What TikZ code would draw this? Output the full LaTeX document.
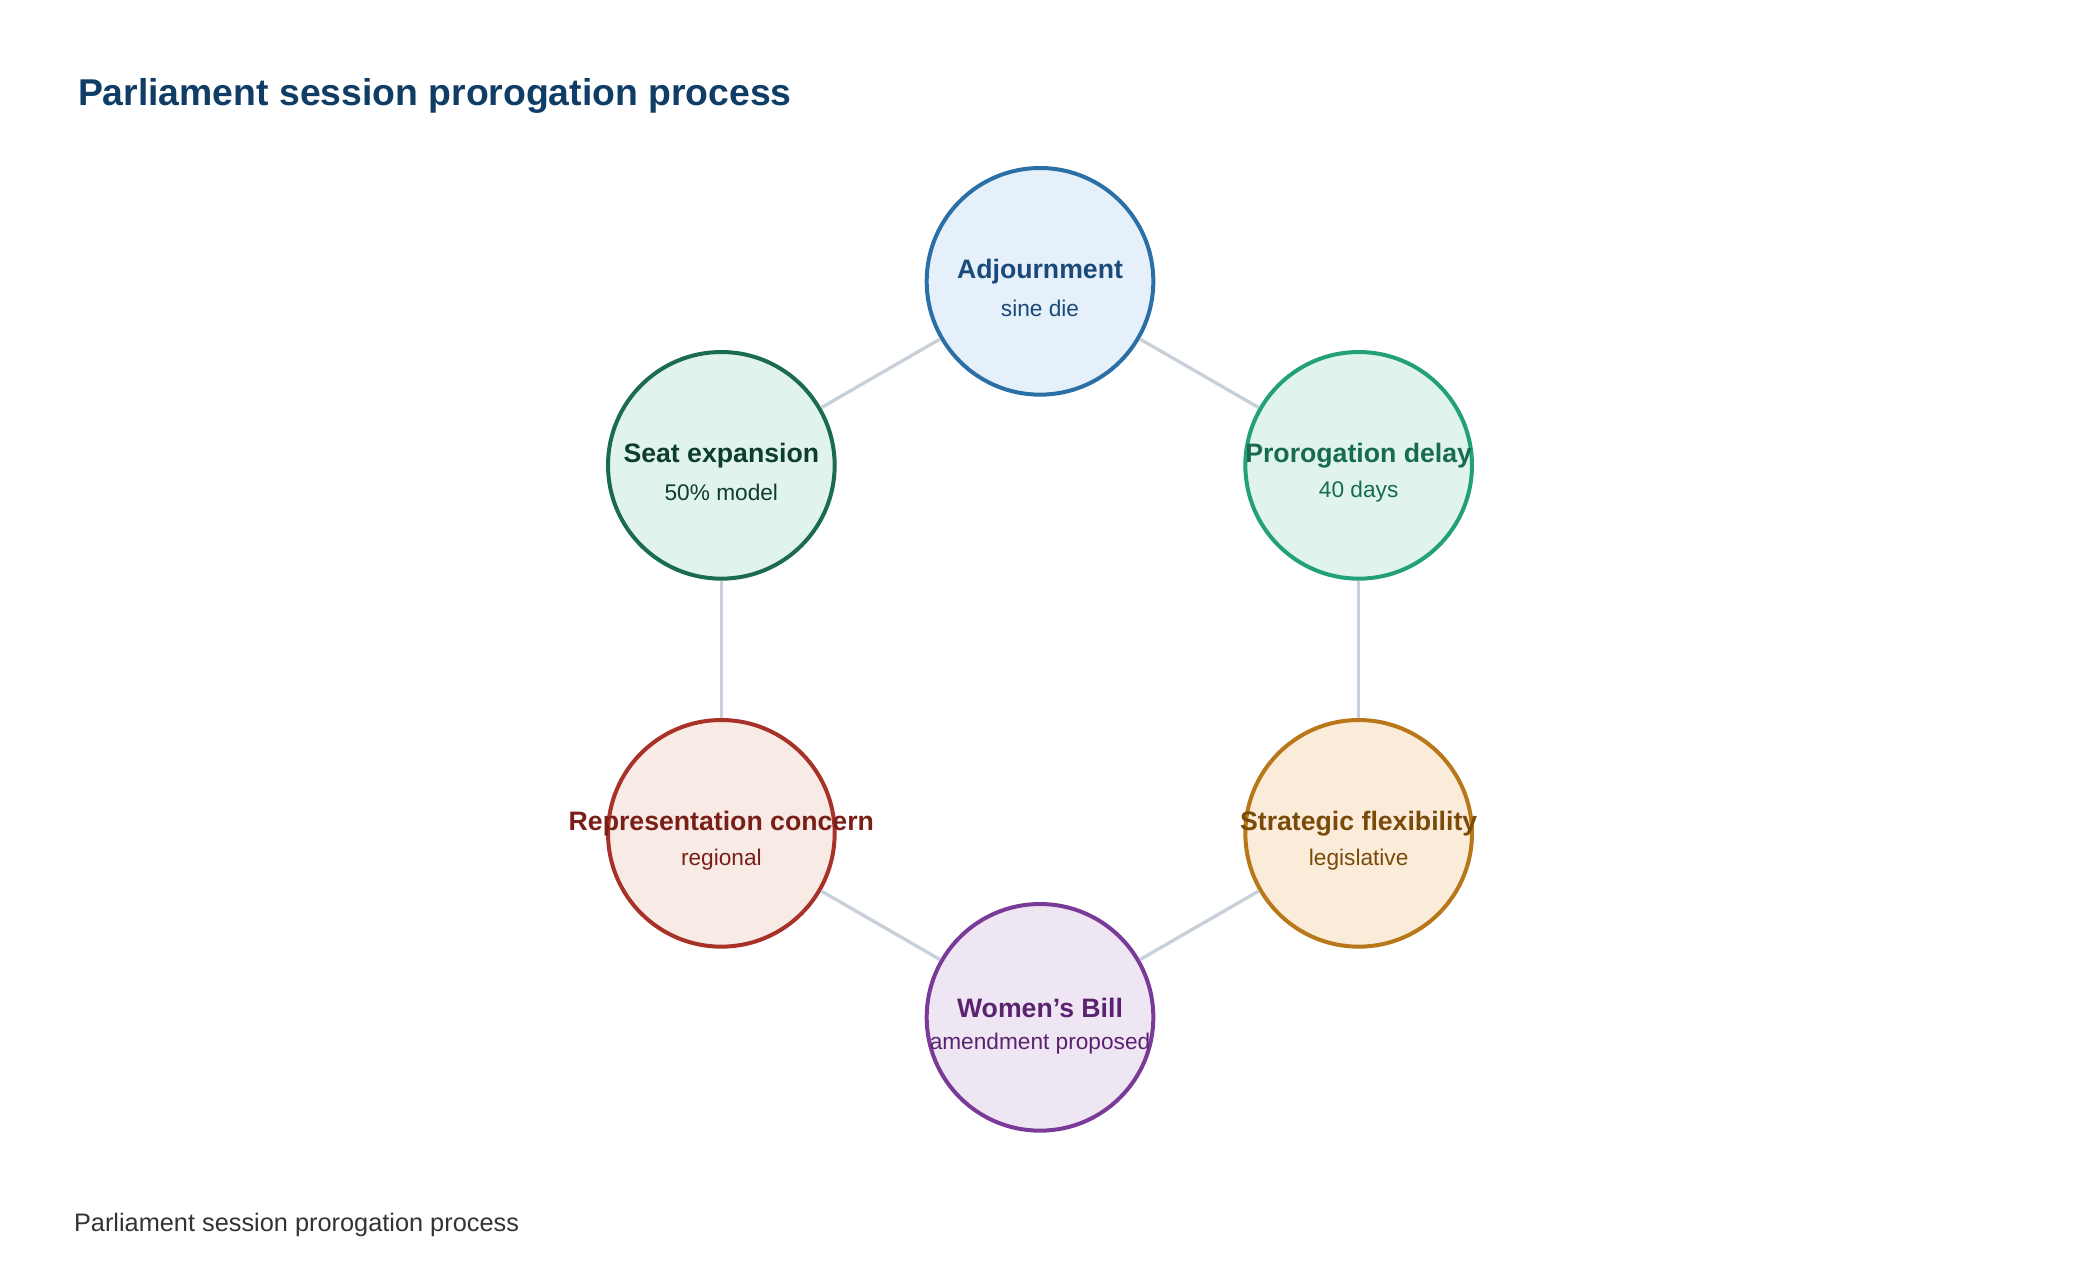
\documentclass[tikz,border=0pt]{standalone}
\usepackage{fontspec}
\setmainfont{Liberation Sans}
\begin{document}
\begin{tikzpicture}[x=1pt,y=-1pt,
  nd/.style={circle,minimum size=170pt,inner sep=0pt,line width=3pt},
  ed/.style={draw=edgec,line width=2.5pt},
  lb/.style={font=\fontsize{20}{24}\selectfont\bfseries},
  sb/.style={font=\fontsize{17}{20}\selectfont}]
\definecolor{edgec}{HTML}{C8D0DA}
\definecolor{c1s}{HTML}{2A6FA6}\definecolor{c1f}{HTML}{E6F0FA}\definecolor{c1t}{HTML}{1A4A7A}
\definecolor{c2s}{HTML}{1A6B50}\definecolor{c2f}{HTML}{E0F3EC}\definecolor{c2t}{HTML}{0D3D2C}
\definecolor{c3s}{HTML}{22A07A}\definecolor{c3f}{HTML}{E0F3EC}\definecolor{c3t}{HTML}{166B50}
\definecolor{c4s}{HTML}{A83228}\definecolor{c4f}{HTML}{F8EBE6}\definecolor{c4t}{HTML}{7A1E18}
\definecolor{c5s}{HTML}{B87718}\definecolor{c5f}{HTML}{FAECD8}\definecolor{c5t}{HTML}{7A4A0A}
\definecolor{c6s}{HTML}{7A3A98}\definecolor{c6f}{HTML}{EFE6F4}\definecolor{c6t}{HTML}{5A2270}
\definecolor{titlec}{HTML}{0F3D66}
\useasboundingbox (0,0) rectangle (1560,963);
\node[nd,draw=c1s,fill=c1f] (a) at (780,211) {};
\node[nd,draw=c2s,fill=c2f] (s) at (541,349) {};
\node[nd,draw=c3s,fill=c3f] (p) at (1019,349) {};
\node[nd,draw=c4s,fill=c4f] (r) at (541,625) {};
\node[nd,draw=c5s,fill=c5f] (t) at (1019,625) {};
\node[nd,draw=c6s,fill=c6f] (w) at (780,763) {};
\draw[ed] (s) -- (a); \draw[ed] (a) -- (p); \draw[ed] (p) -- (t);
\draw[ed] (t) -- (w); \draw[ed] (w) -- (r); \draw[ed] (r) -- (s);
\node[lb,text=c1t] (a1) at (780,204) {Adjournment};
\node[sb,text=c1t] (a2) at (780,231) {sine die};
\node[lb,text=c2t] (s1) at (541,342) {Seat expansion};
\node[sb,text=c2t] (s2) at (541,369) {50\% model};
\node[lb,text=c3t] (p1) at (1019,342) {Prorogation delay};
\node[sb,text=c3t] (p2) at (1019,369) {40 days};
\node[lb,text=c4t] (r1) at (541,618) {Representation concern};
\node[sb,text=c4t] (r2) at (541,645) {regional};
\node[lb,text=c5t] (t1) at (1019,618) {Strategic flexibility};
\node[sb,text=c5t] (t2) at (1019,645) {legislative};
\node[lb,text=c6t] (w1) at (780,756) {Women’s Bill};
\node[sb,text=c6t] (w2) at (780,783) {amendment proposed};
\node[anchor=west,text=titlec,font=\fontsize{28}{32}\selectfont\bfseries] (ti) at (55,72) {Parliament session prorogation process};
\node[anchor=west,text=black!80,font=\fontsize{19}{22}\selectfont] (ft) at (52,919) {Parliament session prorogation process};
\end{tikzpicture}
\end{document}
